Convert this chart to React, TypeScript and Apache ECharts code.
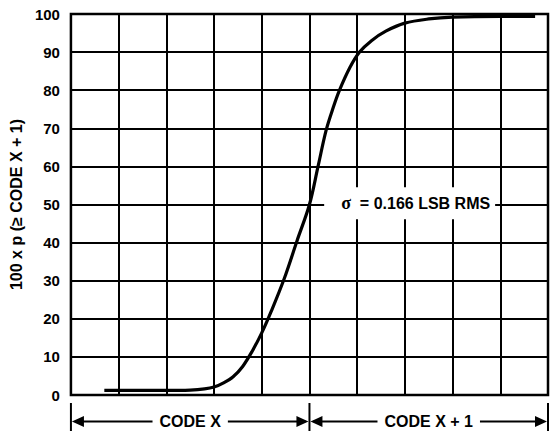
import React, { useEffect, useRef } from "react";
import * as echarts from "echarts";

const curveX = [0.7, 1.5, 2.0, 2.5, 2.8, 3.0, 3.2, 3.4, 3.6, 3.8, 4.0, 4.2, 4.47, 4.74, 5.0, 5.18, 5.35, 5.5, 5.63, 5.85, 6.05, 6.3, 6.6, 7.0, 7.5, 8.0, 9.0, 9.73];
const curveY = [1.2, 1.2, 1.2, 1.3, 1.6, 2.1, 3.2, 4.8, 7.5, 11.5, 16.3, 22, 30.5, 40.5, 50, 60, 69.5, 75.5, 80, 86, 90, 93, 95.5, 97.6, 98.7, 99.2, 99.4, 99.4];
const yTicks = [0, 10, 20, 30, 40, 50, 60, 70, 80, 90, 100];
const xDivisions = [0, 10];
const codeSpans = [
  { from: 0, to: 5, label: "CODE X" },
  { from: 5, to: 10, label: "CODE X + 1" },
];
const sigmaText = "= 0.166 LSB RMS";
const sigmaPos = [7.1, 50.3];

const FONT = "'Liberation Sans', Arial, Helvetica, sans-serif";

export default function App() {
  const ref = useRef<HTMLDivElement>(null);
  useEffect(() => {
    if (!ref.current) return;
    const chart = echarts.init(ref.current, null, { renderer: "svg" });
    const data = curveX.map((x, i) => [x, curveY[i]]);
    chart.setOption({
      animation: false,
      backgroundColor: "#fff",
      grid: {
        left: 68,
        right: 4,
        top: 14,
        bottom: 36,
        show: true,
        borderColor: "#000",
        borderWidth: 2.5,
        backgroundColor: "transparent",
      },
      xAxis: {
        type: "value",
        min: xDivisions[0],
        max: xDivisions[1],
        interval: 1,
        axisLine: { show: false },
        axisTick: { show: false },
        axisLabel: { show: false },
        splitLine: { show: true, lineStyle: { color: "#000", width: 2 } },
      },
      yAxis: {
        type: "value",
        min: yTicks[0],
        max: yTicks[yTicks.length - 1],
        interval: 10,
        axisLine: { show: false },
        axisTick: { show: false },
        axisLabel: {
          margin: 11,
          color: "#000",
          fontFamily: FONT,
          fontWeight: "bold",
          fontSize: 15,
        },
        splitLine: { show: true, lineStyle: { color: "#000", width: 2 } },
        name: "100 x p (\u2265 CODE X + 1)",
        nameLocation: "middle",
        nameRotate: 90,
        nameGap: 43,
        nameTextStyle: {
          color: "#000",
          fontFamily: FONT,
          fontWeight: "bold",
          fontSize: 16,
        },
      },
      series: [
        {
          type: "line",
          data,
          smooth: 0.35,
          showSymbol: false,
          symbol: "none",
          lineStyle: { color: "#000", width: 3.2 },
          z: 5,
        },
      ],
    });

    const bottomPx = chart.convertToPixel({ gridIndex: 0 }, [0, 0])[1];
    const arrowY = bottomPx + 26.5;
    const tickTop = bottomPx + 8;
    const elements: any[] = [];
    const xs = [0, 5, 10].map((v) => chart.convertToPixel({ gridIndex: 0 }, [v, 0])[0]);
    xs.forEach((x) => {
      elements.push({
        type: "line",
        shape: { x1: x, y1: tickTop, x2: x, y2: 431 },
        style: { stroke: "#000", lineWidth: 2 },
      });
    });
    codeSpans.forEach((s) => {
      const x1 = chart.convertToPixel({ gridIndex: 0 }, [s.from, 0])[0];
      const x2 = chart.convertToPixel({ gridIndex: 0 }, [s.to, 0])[0];
      const aw = 12;
      const ah = 5.5;
      elements.push({
        type: "line",
        shape: { x1: x1 + 4, y1: arrowY, x2: x2 - 4, y2: arrowY },
        style: { stroke: "#000", lineWidth: 2 },
      });
      elements.push({
        type: "polygon",
        shape: { points: [[x1 + 1, arrowY], [x1 + 1 + aw, arrowY - ah], [x1 + 1 + aw, arrowY + ah]] },
        style: { fill: "#000" },
      });
      elements.push({
        type: "polygon",
        shape: { points: [[x2 - 1, arrowY], [x2 - 1 - aw, arrowY - ah], [x2 - 1 - aw, arrowY + ah]] },
        style: { fill: "#000" },
      });
      elements.push({
        type: "text",
        x: (x1 + x2) / 2,
        y: arrowY,
        z: 10,
        style: {
          text: s.label,
          fill: "#000",
          font: `bold 16px ${FONT}`,
          align: "center",
          verticalAlign: "middle",
          backgroundColor: "#fff",
          padding: [2, 7, 2, 7],
        },
      });
    });
    const sp = chart.convertToPixel({ gridIndex: 0 }, sigmaPos);
    elements.push({
      type: "text",
      x: sp[0],
      y: sp[1],
      z: 20,
      style: {
        text: "{s|\u03c3}  " + sigmaText,
        fill: "#000",
        font: `bold 16px ${FONT}`,
        align: "center",
        verticalAlign: "middle",
        backgroundColor: "#fff",
        padding: [7, 5, 7, 17],
        rich: {
          s: {
            fontFamily: "'Liberation Serif', 'DejaVu Serif', serif",
            fontWeight: "bold",
            fontSize: 18,
            fill: "#000",
          },
        },
      },
    });
    chart.setOption({ graphic: elements });

    return () => chart.dispose();
  }, []);
  return (
    <div
      ref={ref}
      style={{ position: "fixed", left: 0, top: 0, width: 552, height: 431 }}
    />
  );
}
